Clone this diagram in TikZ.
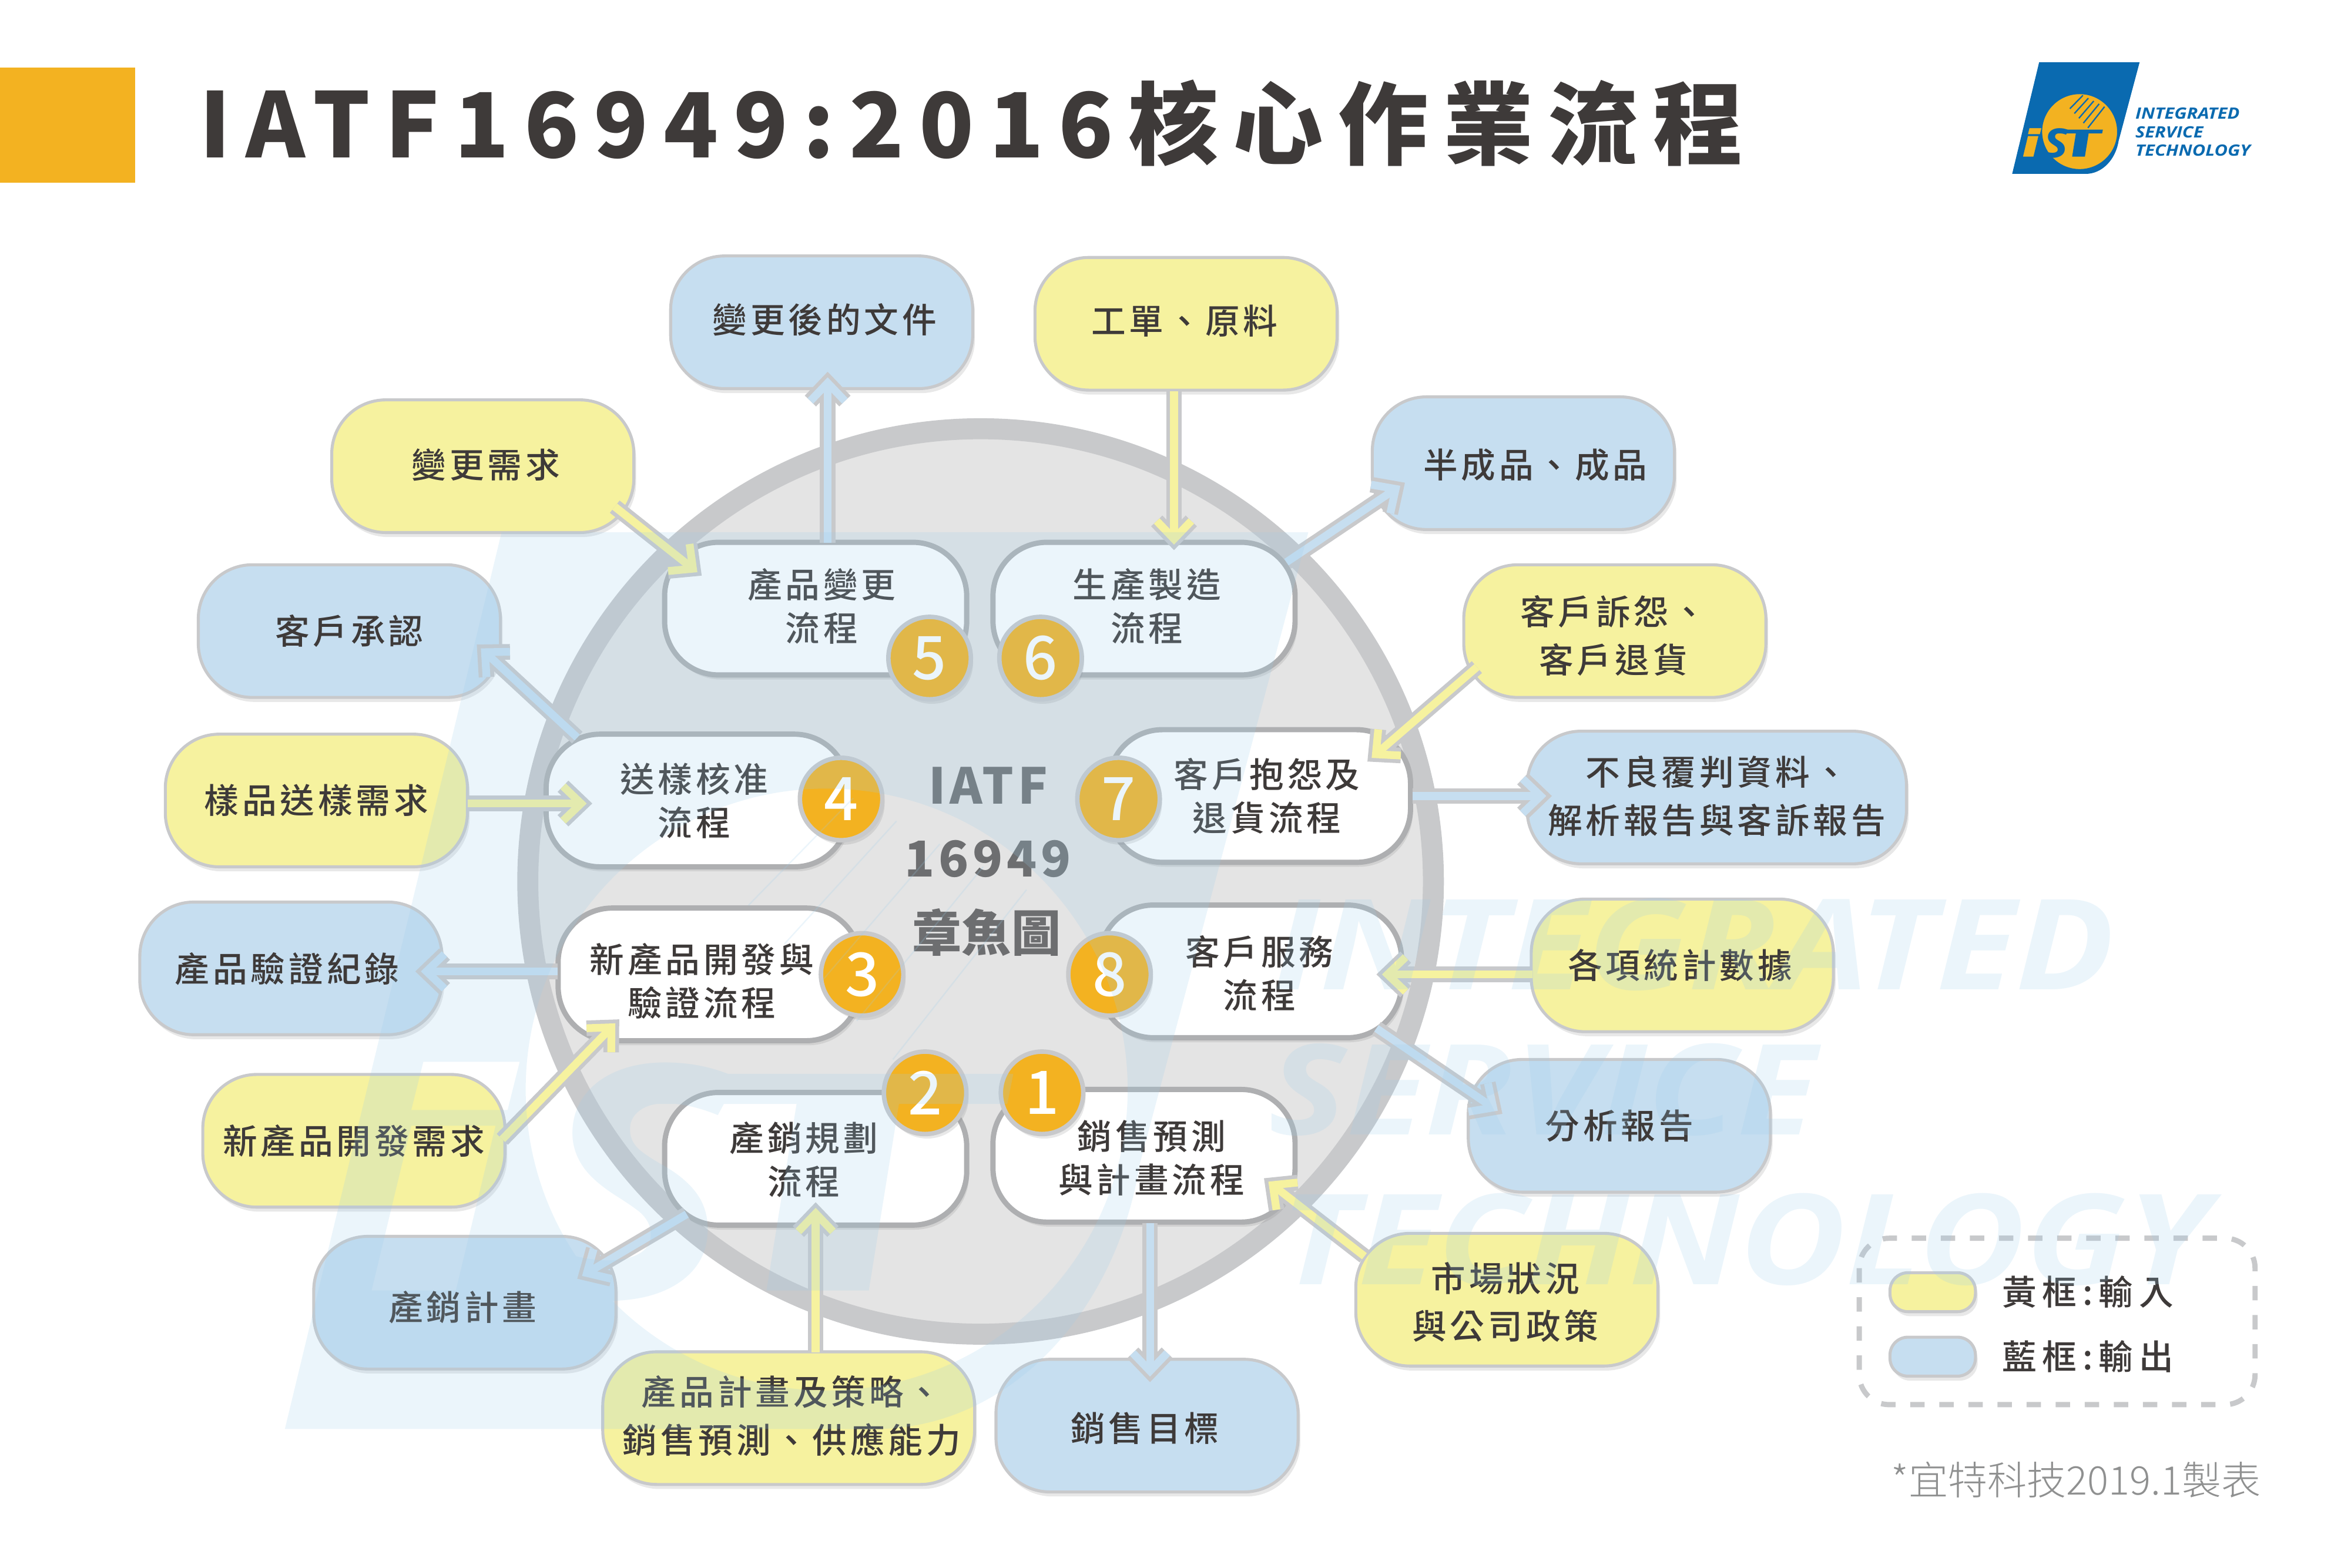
\documentclass[tikz,border=0pt]{standalone}
\usepackage{fontspec}
\usetikzlibrary{arrows.meta,shadows}
\setmainfont[UprightFont={* Medium}]{Noto Sans CJK TC}
\newfontfamily\bodycjk[LetterSpace=10,UprightFont={* Medium}]{Noto Sans CJK TC}
\newfontfamily\titlecjk[LetterSpace=16.6]{Noto Sans CJK TC}
\newfontfamily\centercjk[LetterSpace=8]{Noto Sans CJK TC}
\newfontfamily\legendcjk[LetterSpace=17,UprightFont={* Medium}]{Noto Sans CJK TC}
\newfontfamily\notecjk[UprightFont={* Light}]{Noto Sans CJK TC}
\newfontfamily\logofont[FakeStretch=1.16]{Open Sans}

\definecolor{txtdark}{HTML}{3E3A39}
\definecolor{txtgray}{HTML}{6D6E70}
\definecolor{notegray}{HTML}{8F9090}
\definecolor{rimgray}{HTML}{C8C9CB}
\definecolor{procgray}{HTML}{AEAFB1}
\definecolor{discgray}{HTML}{E4E4E4}
\definecolor{padyellow}{HTML}{F6F29F}
\definecolor{padblue}{HTML}{C6DEF0}
\definecolor{markorange}{HTML}{F3B221}
\definecolor{istblue}{HTML}{0A6AB0}
\definecolor{wmblue}{HTML}{9BCDEB}

% moves the words inside their box
\newcommand{\nudge}[3]{\raisebox{\dimexpr-#2pt-2.5pt\relax}[\height][\depth]{\hspace*{#1pt}\hspace*{#1pt}\begin{tabular}{@{}c@{}}#3\end{tabular}}}

\tikzset{
    padbox/.style={
        rectangle,
        draw=rimgray,
        line width=2pt,
        rounded corners=36pt,
        minimum width=201.5pt,
        minimum height=88.5pt,
        inner sep=0pt,
        align=center,
        text=txtdark,
        font=\bodycjk\fontsize{23}{32}\selectfont,
        drop shadow={shadow xshift=1.5pt, shadow yshift=-3pt, opacity=.18}},
    inbox/.style={padbox, fill=padyellow},
    outbox/.style={padbox, fill=padblue},
    procbox/.style={padbox, fill=white, draw=procgray, line width=3.5pt,
        font=\bodycjk\fontsize{23}{29}\selectfont},
    badge/.style={
        circle,
        draw=rimgray,
        line width=3pt,
        fill=markorange,
        minimum size=55pt,
        inner sep=0pt,
        text=white,
        font=\fontsize{40}{40}\selectfont,
        drop shadow={shadow xshift=1.5pt, shadow yshift=-3pt, opacity=.18}},
    arrin/.style={
        preaction={draw=rimgray, line width=10.4pt,
            -{Straight Barb[length=12pt, width=23pt]}},
        draw=padyellow, line width=5.2pt,
        -{Straight Barb[length=12pt, width=23pt, sep=3.7pt]}},
    arrout/.style={
        preaction={draw=rimgray, line width=10.4pt,
            -{Straight Barb[length=12pt, width=23pt]}},
        draw=padblue, line width=5.2pt,
        -{Straight Barb[length=12pt, width=23pt, sep=3.7pt]}},
    wmtext/.style={
        inner sep=0pt,
        anchor=west,
        text=wmblue,
        font=\logofont\bfseries\itshape\fontsize{84}{84}\selectfont},
    logotext/.style={
        inner sep=0pt,
        anchor=west,
        text=istblue,
        font=\logofont\bfseries\itshape\fontsize{10.4}{10.4}\selectfont},
    legendtext/.style={
        inner sep=0pt,
        anchor=west,
        text=txtdark,
        font=\legendcjk\fontsize{23}{23}\selectfont},
    centertext/.style={
        inner sep=0pt,
        text=txtgray,
        font=\centercjk\bfseries\fontsize{33}{33}\selectfont}
}

% blue part of the company mark, 85 wide and 74.5 high
\newcommand{\istmark}[1]{
    \fill[#1, even odd rule] (18,0) -- (85,0) -- (71,52.5)
        .. controls (69,65) and (60,74.5) .. (49,74.5) -- (0,74.5) -- cycle
        (45,46.3) ellipse [x radius=25, y radius=25]
        (7.2,63) -- (14.2,63) -- (17.5,49.3) -- (10.5,49.3) -- cycle
        (10.5,48) -- (18.5,48) -- (19.5,44) -- (11.5,44) -- cycle;
    \foreach \i in {0,...,4}
        \draw[#1, line width=.9] (38.5+3*\i,31+3.2*\i) -- (47.2+3.6*\i,22.1+1.9*\i);
    \fill[#1] (30,45) -- (60.5,45) -- (60,47.5) -- (51,47.5) -- (48.5,63) -- (40,63) -- (42.5,47.5) -- (29.5,47.5) -- cycle;
    \node[logotext, text=#1, font=\logofont\bfseries\itshape\fontsize{27}{27}\selectfont] (logoS) at (20.5,54) {S};
}

\begin{document}
\begin{tikzpicture}[x=1pt, y=-1pt]
    \useasboundingbox (0,0) rectangle (1568,1045.6);

    % header
    \fill[markorange] (0,45) rectangle (90,122);
    \node[inner sep=0pt, anchor=west, text=txtdark, font=\titlecjk\bfseries\fontsize{60}{60}\selectfont] (title) at (133,82) {IATF16949:2016核心作業流程};

    \begin{scope}[shift={(1342,41.5)}]
        \fill[markorange] (45,46.3) ellipse [x radius=25.5, y radius=25.5];
        \fill[markorange] (6,64) -- (20,64) -- (21,43) -- (10,43) -- cycle;
        \istmark{istblue}
    \end{scope}
    \node[logotext] (brand1) at (1424,75.5) {INTEGRATED};
    \node[logotext] (brand2) at (1424,88) {SERVICE};
    \node[logotext] (brand3) at (1424,100.5) {TECHNOLOGY};

    % disc
    \draw[rimgray, line width=14pt, fill=discgray] (654,588) circle (302);

    % yellow and blue pads
    \node[outbox] (doc) at (548,215) {\nudge{2}{-2}{變更後的文件}};
    \node[inbox] (order) at (791,216) {\nudge{-1}{-2}{工單、原料}};
    \node[inbox] (change) at (322,311) {\nudge{2}{-1}{變更需求}};
    \node[outbox] (goods) at (1016,309) {\nudge{8}{1}{半成品、成品}};
    \node[outbox] (approve) at (233,421) {客戶承認};
    \node[inbox] (claim) at (1077,421) {\nudge{-1}{3}{客戶訴怨、\\客戶退貨}};
    \node[inbox] (sample) at (211,534) {樣品送樣需求};
    \node[outbox, minimum width=253pt] (defect) at (1145,532) {\nudge{0}{-1}{不良覆判資料、\\解析報告與客訴報告}};
    \node[outbox] (verify) at (194,646) {\nudge{-2.5}{0}{產品驗證紀錄}};
    \node[inbox] (stats) at (1122,644) {\nudge{-1.5}{0}{各項統計數據}};
    \node[inbox] (newprod) at (236,761) {新產品開發需求};
    \node[outbox] (report) at (1080,751) {分析報告};
    \node[outbox] (plan) at (310,869) {\nudge{-1.5}{3}{產銷計畫}};
    \node[inbox] (market) at (1005,867) {\nudge{-1}{1.5}{市場狀況\\與公司政策}};
    \node[inbox, minimum width=248pt] (strategy) at (526,946) {\nudge{2}{-1.5}{產品計畫及策略、\\銷售預測、供應能力}};
    \node[outbox] (target) at (765,951) {\nudge{-1.5}{1.5}{銷售目標}};

    % process boxes
    \node[procbox] (p1) at (763,771) {\nudge{5}{2}{銷售預測\\與計畫流程}};
    \node[procbox] (p2) at (544,773) {\nudge{-8}{1}{產銷規劃\\流程}};
    \node[procbox] (p3) at (473,650) {\nudge{-5}{5}{新產品開發與\\驗證流程}};
    \node[procbox] (p4) at (465,534) {\nudge{-2}{0.5}{送樣核准\\流程}};
    \node[procbox] (p5) at (544,406) {\nudge{4}{-1}{產品變更\\流程}};
    \node[procbox] (p6) at (763,406) {\nudge{2}{-1}{生產製造\\流程}};
    \node[procbox] (p7) at (840,531) {\nudge{5}{0.5}{客戶抱怨及\\退貨流程}};
    \node[procbox] (p8) at (834,648) {\nudge{6}{2}{客戶服務\\流程}};

    % connectors
    \draw[arrout] ([shift={(8,-44)}]p5.center) -- ([shift={(4,33)}]doc.center);
    \draw[arrin] ([shift={(-8,45)}]order.center) -- ([shift={(20,-39)}]p6.center);
    \draw[arrin] ([shift={(88,27)}]change.center) -- ([shift={(-76,-22)}]p5.center);
    \draw[arrout] ([shift={(95,-31)}]p6.center) -- ([shift={(-79,13)}]goods.center);
    \draw[arrout] ([shift={(-80,-42)}]p4.center) -- ([shift={(85,9)}]approve.center);
    \draw[arrin] ([shift={(-92,24)}]claim.center) -- ([shift={(72,-23)}]p7.center);
    \draw[arrin] ([shift={(101,2)}]sample.center) -- ([shift={(-70,2)}]p4.center);
    \draw[arrout] ([shift={(102,0)}]p7.center) -- ([shift={(-110,-1)}]defect.center);
    \draw[arrout] ([shift={(-101,-2)}]p3.center) -- ([shift={(83,2)}]verify.center);
    \draw[arrin] ([shift={(-100,6)}]stats.center) -- ([shift={(84,2)}]p8.center);
    \draw[arrin] ([shift={(99,-1)}]newprod.center) -- ([shift={(-60,30)}]p3.center);
    \draw[arrout] ([shift={(84,38)}]p8.center) -- ([shift={(-78,-8)}]report.center);
    \draw[arrout] ([shift={(-86,37)}]p2.center) -- ([shift={(75,-16)}]plan.center);
    \draw[arrin] ([shift={(18,-44)}]strategy.center) -- ([shift={(0,29)}]p2.center);
    \draw[arrin] ([shift={(-95,-29)}]market.center) -- ([shift={(80,15)}]p1.center);
    \draw[arrout] ([shift={(4,45)}]p1.center) -- ([shift={(2,-29)}]target.center);

    % number badges
    \node[badge] (b1) at (695,729) {1};
    \node[badge] (b2) at (617,729) {2};
    \node[badge] (b3) at (575,650) {3};
    \node[badge] (b4) at (561,533) {4};
    \node[badge] (b5) at (620,439) {5};
    \node[badge] (b6) at (694,439) {6};
    \node[badge] (b7) at (746,533) {7};
    \node[badge] (b8) at (740,650) {8};

    % centre words
    \node[centertext] (c1) at (659,524) {IATF};
    \node[centertext] (c2) at (659,573) {16949};
    \node[centertext, font=\bfseries\fontsize{33}{33}\selectfont] (c3) at (658,622) {章魚圖};

    % legend
    \draw[rimgray, line width=3.5pt, dash pattern=on 9.6pt off 9.8pt, rounded corners=20pt] (1240,826) rectangle (1504,937);
    \node[inbox, minimum width=57pt, minimum height=26pt, rounded corners=12pt] (keyin) at (1289,862) {};
    \node[outbox, minimum width=57pt, minimum height=26pt, rounded corners=12pt] (keyout) at (1289,905) {};
    \node[legendtext] (keyint) at (1335,862) {黃框:輸入};
    \node[legendtext] (keyoutt) at (1335,905) {藍框:輸出};
    \node[inner sep=0pt, anchor=east, text=notegray, font=\notecjk\fontsize{26.3}{26.3}\selectfont] (note) at (1508,987) {*宜特科技2019.1製表};

    % watermark over everything
    \begin{scope}[shift={(190,355)}, scale=8.03, transform shape, transparency group, opacity=.2]
        \istmark{wmblue}
    \end{scope}
    \begin{scope}[transparency group, opacity=.2]
        \node[wmtext] (wm1) at (849,630) {INTEGRATED};
        \node[wmtext] (wm2) at (846,727) {SERVICE};
        \node[wmtext] (wm3) at (854,827) {TECHNOLOGY};
    \end{scope}
\end{tikzpicture}
\end{document}
